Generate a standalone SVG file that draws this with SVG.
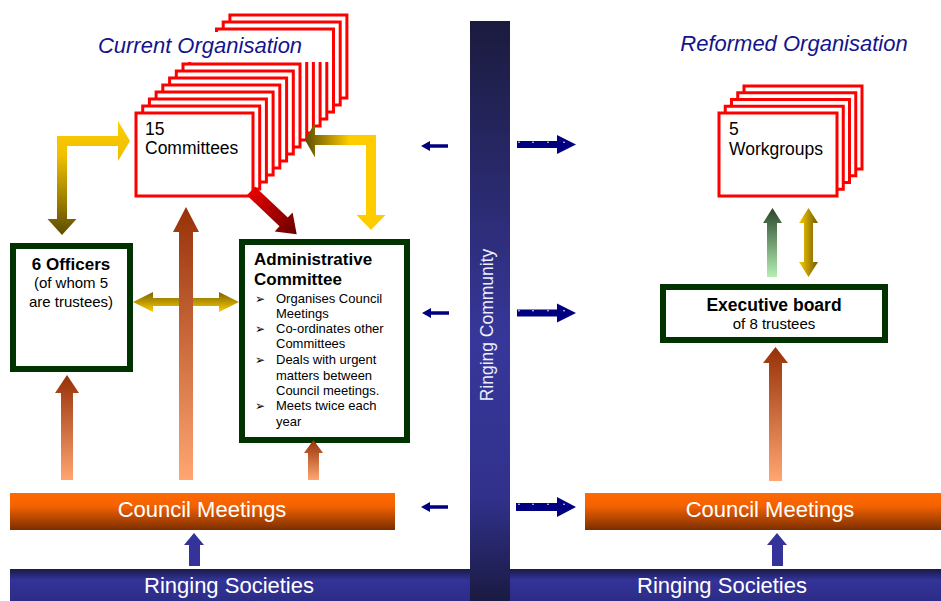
<svg xmlns="http://www.w3.org/2000/svg" width="941" height="601" viewBox="0 0 941 601">
  <style>
    text { font-family: "Liberation Sans", Arial, sans-serif; }
    .card { fill: #ffffff; stroke: #ff0000; stroke-width: 3; }
    .gbox { fill: #ffffff; stroke: #003300; stroke-width: 6; }
    .title { font-size: 22px; font-style: italic; fill: #14148c; text-anchor: middle; }
    .cardtxt { font-size: 17.5px; fill: #000000; }
    .bold { font-weight: bold; }
    .bar { font-size: 22px; fill: #ffffff; text-anchor: middle; }
    .item { font-size: 13px; fill: #000000; }
    .bul { font-family: "DejaVu Sans", sans-serif; font-size: 12px; fill: #000000; }
    .navy { fill: #000080; }
    .dot { fill: #ffffff; }
  </style>
  <defs>
    <linearGradient id="gCommunity" x1="0" y1="0" x2="0" y2="1">
      <stop offset="0" stop-color="#1b1b3e"/>
      <stop offset="0.55" stop-color="#37379a"/>
      <stop offset="0.82" stop-color="#31318c"/>
      <stop offset="1" stop-color="#1a1a42"/>
    </linearGradient>
    <linearGradient id="gSociety" x1="0" y1="0" x2="0" y2="1">
      <stop offset="0" stop-color="#1a1a48"/>
      <stop offset="0.35" stop-color="#333399"/>
      <stop offset="1" stop-color="#2c2c86"/>
    </linearGradient>
    <linearGradient id="gCouncil" x1="0" y1="0" x2="0" y2="1">
      <stop offset="0" stop-color="#ff6a00"/>
      <stop offset="0.35" stop-color="#f46200"/>
      <stop offset="1" stop-color="#7a2e00"/>
    </linearGradient>
    <linearGradient id="gBrown" x1="0" y1="0" x2="0" y2="1">
      <stop offset="0" stop-color="#963008"/>
      <stop offset="1" stop-color="#ffa672"/>
    </linearGradient>
    <linearGradient id="gYellowL" x1="0" y1="0" x2="0" y2="1">
      <stop offset="0" stop-color="#ffcc00"/>
      <stop offset="0.3" stop-color="#f0c000"/>
      <stop offset="1" stop-color="#5c4c00"/>
    </linearGradient>
    <linearGradient id="gYellowR" x1="0" y1="0" x2="1" y2="0">
      <stop offset="0" stop-color="#5c4c00"/>
      <stop offset="0.55" stop-color="#ffcc00"/>
      <stop offset="1" stop-color="#ffcc00"/>
    </linearGradient>
    <linearGradient id="gYellowMid" x1="0" y1="0" x2="0" y2="1">
      <stop offset="0" stop-color="#7a6400"/>
      <stop offset="1" stop-color="#ffcc00"/>
    </linearGradient>
    <linearGradient id="gYellowWG" x1="0" y1="0" x2="1" y2="0">
      <stop offset="0" stop-color="#ffcc00"/>
      <stop offset="1" stop-color="#6e5a00"/>
    </linearGradient>
    <linearGradient id="gGreen" x1="0" y1="0" x2="0" y2="1">
      <stop offset="0" stop-color="#2a472a"/>
      <stop offset="1" stop-color="#b5efb5"/>
    </linearGradient>
    <linearGradient id="gRed" x1="0" y1="0" x2="1" y2="0">
      <stop offset="0" stop-color="#e80000"/>
      <stop offset="1" stop-color="#660000"/>
    </linearGradient>
  </defs>

  <rect width="941" height="601" fill="#ffffff"/>

  <!-- central divider -->
  <g id="ringing-community">
    <rect x="470" y="21" width="40" height="580" fill="url(#gCommunity)"/>
    <text x="493" y="325" transform="rotate(-90 493 325)" font-size="17.5" fill="#eeeeff" text-anchor="middle">Ringing Community</text>
  </g>

  <!-- stack of fifteen committee cards, back to front -->
  <g id="committees">
    <rect class="card" x="229.9" y="15" width="117" height="83"/>
    <rect class="card" x="223.2" y="22" width="117" height="83"/>
    <rect class="card" x="216.5" y="29" width="117" height="83"/>
    <rect class="card" x="209.8" y="36" width="117" height="83"/>
    <rect class="card" x="203.1" y="43" width="117" height="83"/>
    <rect class="card" x="196.4" y="50" width="117" height="83"/>
    <rect class="card" x="189.7" y="57" width="117" height="83"/>
    <rect class="card" x="183" y="64" width="117" height="83"/>
    <rect class="card" x="176.3" y="71" width="117" height="83"/>
    <rect class="card" x="169.6" y="78" width="117" height="83"/>
    <rect class="card" x="162.8" y="85" width="117" height="83"/>
    <rect class="card" x="156.1" y="92" width="117" height="83"/>
    <rect class="card" x="149.4" y="99" width="117" height="83"/>
    <rect class="card" x="142.7" y="106" width="117" height="83"/>
    <rect class="card" x="136" y="113" width="117" height="83"/>
    <text class="cardtxt" x="145" y="135">15</text>
    <text class="cardtxt" x="145" y="154">Committees</text>
  </g>

  <g id="title-current">
    <rect x="90" y="32" width="241" height="30" fill="#ffffff"/>
    <text class="title" x="200" y="53">Current Organisation</text>
  </g>
  <g id="title-reformed">
    <text class="title" x="794" y="51">Reformed Organisation</text>
  </g>

  <g id="officers">
    <rect class="gbox" x="13" y="246" width="117" height="123"/>
    <text x="71" y="270" font-size="17" font-weight="bold" text-anchor="middle">6 Officers</text>
    <text x="71" y="288" font-size="15" text-anchor="middle">(of whom 5</text>
    <text x="71" y="307" font-size="15" text-anchor="middle">are trustees)</text>
  </g>

  <g id="administrative-committee">
    <rect class="gbox" x="242" y="242" width="165" height="198"/>
    <text class="bold" x="254" y="265" font-size="17">Administrative</text>
    <text class="bold" x="254" y="285" font-size="17">Committee</text>
    <text class="bul" x="255" y="303">➢</text>
    <text class="item" x="276" y="303">Organises Council</text>
    <text class="item" x="276" y="317.5">Meetings</text>
    <text class="bul" x="255" y="333">➢</text>
    <text class="item" x="276" y="333">Co-ordinates other</text>
    <text class="item" x="276" y="348">Committees</text>
    <text class="bul" x="255" y="364">➢</text>
    <text class="item" x="276" y="364">Deals with urgent</text>
    <text class="item" x="276" y="379.5">matters between</text>
    <text class="item" x="276" y="395">Council meetings.</text>
    <text class="bul" x="255" y="410">➢</text>
    <text class="item" x="276" y="410">Meets twice each</text>
    <text class="item" x="276" y="425.5">year</text>
  </g>

  <!-- stack of five workgroup cards, back to front -->
  <g id="workgroups">
    <rect class="card" x="744" y="86" width="118" height="83"/>
    <rect class="card" x="737.75" y="92.75" width="118" height="83"/>
    <rect class="card" x="731.5" y="99.5" width="118" height="83"/>
    <rect class="card" x="725.25" y="106.25" width="118" height="83"/>
    <rect class="card" x="719" y="113" width="118" height="83"/>
    <text class="cardtxt" x="729" y="135">5</text>
    <text class="cardtxt" x="729" y="155">Workgroups</text>
  </g>

  <g id="executive-board">
    <rect class="gbox" x="663" y="287" width="222" height="53"/>
    <text x="774" y="311" font-size="17.5" font-weight="bold" text-anchor="middle">Executive board</text>
    <text x="774" y="329" font-size="15" text-anchor="middle">of 8 trustees</text>
  </g>

  <g id="council-meetings-current">
    <rect x="10" y="493" width="385" height="37" fill="url(#gCouncil)"/>
    <text class="bar" x="202" y="517">Council Meetings</text>
  </g>
  <g id="council-meetings-reformed">
    <rect x="585" y="493" width="356" height="37" fill="url(#gCouncil)"/>
    <text class="bar" x="770" y="517">Council Meetings</text>
  </g>

  <g id="ringing-societies-current">
    <rect x="10" y="569" width="460" height="32" fill="url(#gSociety)"/>
    <text class="bar" x="229" y="593">Ringing Societies</text>
  </g>
  <g id="ringing-societies-reformed">
    <rect x="510" y="569" width="431" height="32" fill="url(#gSociety)"/>
    <text class="bar" x="722" y="593">Ringing Societies</text>
  </g>

  <!-- connectors -->
  <g id="connectors">
    <!-- officers <-> committees elbow -->
    <polygon fill="url(#gYellowL)" points="130,141 118,121 118,136 57,136 57,219 47.5,219 62,235 76.5,219 67,219 67,146 118,146 118,161"/>
    <!-- committees <-> administrative committee elbow -->
    <polygon fill="url(#gYellowR)" points="305,140 315,122.5 315,135 376,135 376,215 385.5,215 371,230 356.5,215 366,215 366,145 315,145 315,157.5"/>
    <!-- officers <-> administrative committee -->
    <polygon fill="url(#gYellowMid)" points="133,302 153,292 153,298 219,298 219,292 239,302 219,312 219,306 153,306 153,312"/>
    <!-- committees -> administrative committee -->
    <polygon fill="url(#gRed)" transform="translate(251,191) rotate(43.5)" points="0,-6 45,-6 45,-13 63,0 45,13 45,6 0,6"/>

    <!-- council meetings up to each body -->
    <polygon fill="url(#gBrown)" points="67,375 79,393 73,393 73,480 61,480 61,393 55,393"/>
    <polygon fill="url(#gBrown)" points="186,207 199,232 193,232 193,480 179,480 179,232 173,232"/>
    <polygon fill="url(#gBrown)" points="313.5,440 323,453 319,453 319,480 308,480 308,453 304,453"/>
    <polygon fill="url(#gBrown)" points="775.5,347 788,363 782,363 782,481 769,481 769,363 763,363"/>

    <!-- executive board to workgroups -->
    <polygon fill="url(#gGreen)" points="772.5,208 782,223 777,223 777,277 767,277 767,223 763,223"/>
    <polygon fill="url(#gYellowWG)" points="808.5,208 818,223 813,223 813,262 818,262 808.5,277 799,262 804,262 804,223 799,223"/>

    <!-- ringing societies up to council meetings -->
    <polygon fill="#333399" points="194,533 204,545 200,545 200,566 189,566 189,545 184,545"/>
    <polygon fill="#333399" points="777,533 787,545 783,545 783,566 772,566 772,545 767,545"/>

    <!-- small arrows from the ringing community to the current organisation -->
    <polygon class="navy" points="421,146 430,141 430,144.3 448,144.3 448,147.7 430,147.7 430,151"/>
    <polygon class="navy" points="422,313 431,308 431,311.3 449,311.3 449,314.7 431,314.7 431,318"/>
    <polygon class="navy" points="421,507 430,502 430,505.3 448,505.3 448,508.7 430,508.7 430,512"/>

    <!-- larger arrows from the ringing community to the reformed organisation -->
    <g id="reform-arrow-1">
      <polygon class="navy" points="517,141 557,141 557,135 576,144.5 557,154 557,148 517,148"/>
      <circle class="dot" cx="519" cy="142.3" r="0.8"/>
      <circle class="dot" cx="533" cy="142.3" r="0.8"/>
      <circle class="dot" cx="548" cy="142.3" r="0.8"/>
      <circle class="dot" cx="564" cy="142.3" r="0.8"/>
    </g>
    <g id="reform-arrow-2">
      <polygon class="navy" points="517,309.5 557,309.5 557,303.5 576,313 557,322.5 557,316.5 517,316.5"/>
      <circle class="dot" cx="519" cy="310.8" r="0.8"/>
      <circle class="dot" cx="533" cy="310.8" r="0.8"/>
      <circle class="dot" cx="548" cy="310.8" r="0.8"/>
      <circle class="dot" cx="564" cy="310.8" r="0.8"/>
    </g>
    <g id="reform-arrow-3">
      <polygon class="navy" points="516,503 557,503 557,497 576,507 557,517 557,511 516,511"/>
      <circle class="dot" cx="519" cy="504.3" r="0.8"/>
      <circle class="dot" cx="533" cy="504.3" r="0.8"/>
      <circle class="dot" cx="548" cy="504.3" r="0.8"/>
      <circle class="dot" cx="564" cy="504.3" r="0.8"/>
    </g>
  </g>
</svg>
